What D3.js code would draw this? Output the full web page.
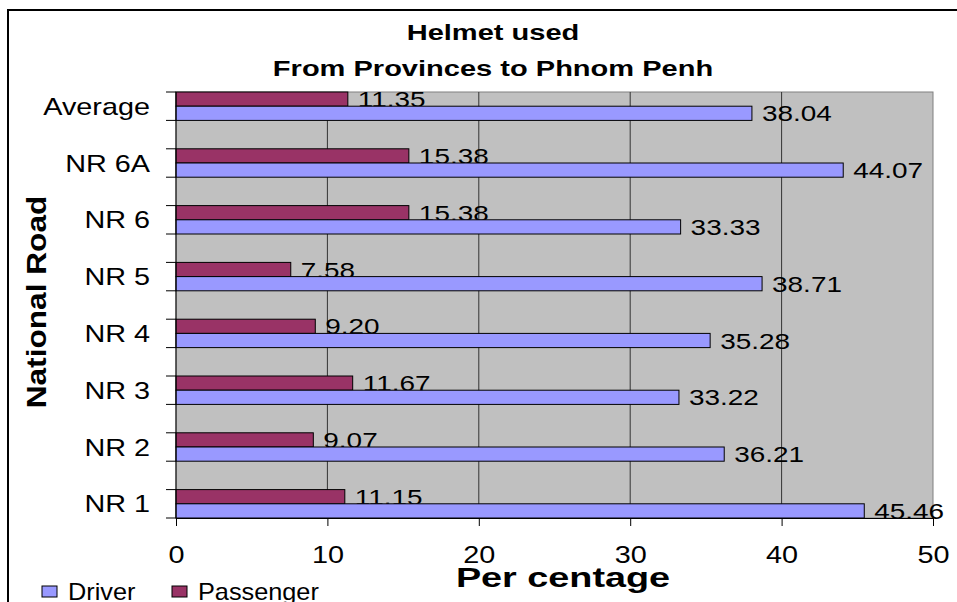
<!DOCTYPE html>
<html>
<head>
<meta charset="utf-8">
<script src="https://cdn.jsdelivr.net/npm/d3@7"></script>
<style>
  body { margin: 0; background: #fff; }
  svg text { font-family: "Liberation Sans", Arial, sans-serif; fill: #000; }
</style>
</head>
<body>
<script>
// chart data, top row first as in the picture
var categories = ["Average", "NR 6A", "NR 6", "NR 5", "NR 4", "NR 3", "NR 2", "NR 1"];
var driver = [38.04, 44.07, 33.33, 38.71, 35.28, 33.22, 36.21, 45.46];
var passenger = [11.35, 15.38, 15.38, 7.58, 9.20, 11.67, 9.07, 11.15];
var seriesNames = ["Driver", "Passenger"];
var xTicks = [0, 10, 20, 30, 40, 50];

var svgWidth = 957, svgHeight = 602;
var margin = { top: 92, left: 176, right: 24, bottom: 84 };
var width = svgWidth - margin.left - margin.right;
var height = svgHeight - margin.top - margin.bottom;

var colors = { Driver: "#9999FF", Passenger: "#993366" };

var svg = d3.select("body").append("svg")
  .attr("width", svgWidth)
  .attr("height", svgHeight);

// outer chart border (runs off right and bottom edge)
svg.append("rect")
  .attr("x", 8).attr("y", 10)
  .attr("width", 980).attr("height", 640)
  .attr("fill", "none")
  .attr("stroke", "#000")
  .attr("stroke-width", 2);

// title
var title = svg.append("g");
title.append("text")
  .attr("transform", "translate(493,40) scale(1.32,1)")
  .attr("text-anchor", "middle")
  .attr("font-size", "22px").attr("font-weight", "bold")
  .text("Helmet used");
title.append("text")
  .attr("transform", "translate(493,76) scale(1.32,1)")
  .attr("text-anchor", "middle")
  .attr("font-size", "22px").attr("font-weight", "bold")
  .text("From Provinces to Phnom Penh");

var chartGroup = svg.append("g")
  .attr("transform", `translate(${margin.left}, ${margin.top})`);

// slots: each road followed by an empty slot (except the last)
var slots = [];
categories.forEach(function(c, i) {
  slots.push(c);
  if (i < categories.length - 1) slots.push("_gap" + i);
});

var xLinearScale = d3.scaleLinear().domain([0, 50]).range([0, width]);
var yBand = d3.scaleBand().domain(slots).range([0, height]).paddingInner(0);
var ySub = d3.scaleBand().domain(["Passenger", "Driver"]).range([0, yBand.bandwidth()]);

// plot background
chartGroup.append("rect")
  .attr("width", width).attr("height", height)
  .attr("fill", "#C0C0C0")
  .attr("stroke", "#808080")
  .attr("stroke-width", 1);

// gridlines
chartGroup.selectAll(".grid")
  .data(xTicks.slice(1, -1))
  .enter().append("line")
  .attr("x1", d => xLinearScale(d)).attr("x2", d => xLinearScale(d))
  .attr("y1", 0).attr("y2", height)
  .attr("stroke", "#333")
  .attr("stroke-width", 1);

// bars
var rows = categories.map(function(c, i) {
  return { cat: c, Driver: driver[i], Passenger: passenger[i] };
});
var rowGroups = chartGroup.selectAll(".row")
  .data(rows)
  .enter().append("g")
  .attr("transform", d => `translate(0, ${yBand(d.cat)})`);

["Passenger", "Driver"].forEach(function(s) {
  rowGroups.append("rect")
    .attr("x", 0)
    .attr("y", ySub(s))
    .attr("width", d => xLinearScale(d[s]))
    .attr("height", ySub.bandwidth())
    .attr("fill", colors[s])
    .attr("stroke", "#000")
    .attr("stroke-width", 1);

  rowGroups.append("text")
    .attr("transform", d => `translate(${xLinearScale(d[s]) + 10}, ${ySub(s) + ySub.bandwidth() / 2 + 8}) scale(1.27,1)`)
    .attr("font-size", "22px")
    .text(d => d3.format(".2f")(d[s]));
});

// left axis with ticks at slot boundaries
chartGroup.append("line")
  .attr("x1", 0).attr("x2", 0).attr("y1", 0).attr("y2", height)
  .attr("stroke", "#000");
var bounds = slots.map(d => yBand(d)).concat([height]);
chartGroup.selectAll(".ytick")
  .data(bounds)
  .enter().append("line")
  .attr("x1", -10).attr("x2", 0)
  .attr("y1", d => d).attr("y2", d => d)
  .attr("stroke", "#000");

chartGroup.selectAll(".ylabel")
  .data(categories)
  .enter().append("text")
  .attr("transform", d => `translate(-26, ${yBand(d) + yBand.bandwidth() / 2 + 8.5}) scale(1.2,1)`)
  .attr("text-anchor", "end")
  .attr("font-size", "24px")
  .text(d => d);

// bottom axis
var bottomAxis = d3.axisBottom(xLinearScale).tickValues(xTicks).tickSize(8).tickSizeOuter(0);
var xAxisG = chartGroup.append("g")
  .attr("transform", `translate(0, ${height})`)
  .call(bottomAxis);
xAxisG.select(".domain").attr("stroke", "#000");
xAxisG.selectAll(".tick line").attr("stroke", "#000");
xAxisG.selectAll(".tick text")
  .attr("y", 45).attr("dy", 0)
  .attr("transform", "scale(1.2,1)")
  .attr("font-size", "24px")
  .attr("font-family", "Liberation Sans, Arial, sans-serif")
  .attr("fill", "#000");

// axis titles
svg.append("text")
  .attr("transform", "translate(563,587) scale(1.35,1)")
  .attr("text-anchor", "middle")
  .attr("font-size", "28px").attr("font-weight", "bold")
  .text("Per centage");

svg.append("text")
  .attr("transform", "translate(46,302) rotate(-90) scale(1.13,1)")
  .attr("text-anchor", "middle")
  .attr("font-size", "28px").attr("font-weight", "bold")
  .text("National Road");

// legend
var legendX = [42, 172];
var legend = svg.selectAll(".legend")
  .data(seriesNames)
  .enter().append("g")
  .attr("transform", (d, i) => `translate(${legendX[i]}, 586)`);
legend.append("rect")
  .attr("width", 15).attr("height", 11)
  .attr("fill", d => colors[d])
  .attr("stroke", "#000");
legend.append("text")
  .attr("transform", "translate(26,14) scale(1.1,1)")
  .attr("font-size", "23px")
  .text(d => d);
</script>
</body>
</html>
